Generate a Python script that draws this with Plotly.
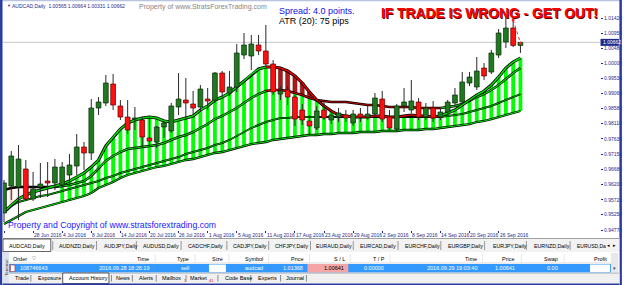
import plotly.graph_objects as go

# ---------------- data ----------------
bars = list(range(72))
date_ticks = [0, 4, 8, 12, 16, 20, 24, 28, 32, 36, 40, 44, 48, 52, 56, 60, 64, 68]
date_labels = ["22 Jun 2016", "28 Jun 2016", "4 Jul 2016", "8 Jul 2016", "14 Jul 2016",
               "20 Jul 2016", "26 Jul 2016", "1 Aug 2016", "5 Aug 2016", "11 Aug 2016",
               "17 Aug 2016", "23 Aug 2016", "29 Aug 2016", "2 Sep 2016", "8 Sep 2016",
               "14 Sep 2016", "20 Sep 2016", "26 Sep 2016"]

opens = [0.95304, 0.96152, 0.96120, 0.96685, 0.95743, 0.96120, 0.96309, 0.96246, 0.96183, 0.96497,
         0.96780, 0.97376, 0.97188, 0.98601, 0.98758, 0.99354, 0.98664, 0.98318, 0.98255, 0.98224,
         0.97659, 0.97533, 0.98004, 0.97879, 0.98632, 0.98852, 0.98726, 0.98632, 0.98883, 0.98852,
         0.99700, 0.99072, 0.99260, 1.00265, 1.00234, 1.00579, 1.00391, 0.99982, 0.99040, 0.99166,
         0.98946, 0.98538, 0.98193, 0.97973, 0.98538, 0.98224, 0.98318, 0.98381, 0.98130, 0.98412,
         0.98318, 0.98412, 0.98883, 0.98318, 0.97941, 0.98664, 0.98538, 0.98789, 0.98318, 0.98601,
         0.98318, 0.98475, 0.98758, 0.98789, 0.99386, 0.99260, 0.99857, 0.99731, 1.00265, 1.00673,
         1.01113, 1.00565]
highs = [0.96340, 0.97251, 0.97439, 0.96968, 0.96591, 0.96874, 0.96905, 0.96999, 0.96905, 0.97156,
         0.97784, 0.97533, 0.98883, 0.98946, 0.99637, 0.99668, 0.98852, 0.98852, 0.98632, 0.98318,
         0.98318, 0.98036, 0.98193, 0.98758, 0.99700, 0.99543, 0.99135, 0.99323, 0.99229, 0.99731,
         0.99763, 0.99763, 1.00610, 1.00956, 1.00893, 1.00893, 1.01207, 1.00108, 0.99292, 0.99292,
         0.99009, 0.98726, 0.98381, 0.98664, 0.98789, 0.98475, 0.98601, 0.98538, 0.98538, 0.98601,
         0.98695, 0.99072, 0.99135, 0.98538, 0.98726, 0.99229, 0.99480, 0.98915, 0.98758, 0.98821,
         0.98601, 0.98852, 0.99229, 0.99731, 0.99731, 1.00202, 1.00014, 1.00422, 1.01081, 1.01521,
         1.01490, 1.00664]
lows = [0.95021, 0.95712, 0.95084, 0.95681, 0.95681, 0.95775, 0.95806, 0.96026, 0.96089, 0.96183,
        0.96497, 0.96654, 0.96968, 0.98381, 0.98664, 0.98538, 0.98224, 0.97784, 0.97910, 0.97376,
        0.97408, 0.97345, 0.97659, 0.97816, 0.98381, 0.98224, 0.98381, 0.98475, 0.98538, 0.98758,
        0.98946, 0.98978, 0.99103, 1.00139, 0.99794, 1.00265, 0.99920, 0.99009, 0.98852, 0.98695,
        0.98036, 0.98067, 0.97753, 0.97910, 0.98224, 0.98098, 0.98161, 0.98161, 0.98036, 0.98161,
        0.98224, 0.98350, 0.98161, 0.97910, 0.97879, 0.98475, 0.98444, 0.98224, 0.98224, 0.98161,
        0.98224, 0.98381, 0.98664, 0.98726, 0.99292, 0.99166, 0.99480, 0.99668, 1.00171, 1.00485,
        1.00516, 1.00331]
closes = [0.96246, 0.97094, 0.96999, 0.95743, 0.96057, 0.96214, 0.96246, 0.96748, 0.96748, 0.96811,
          0.97376, 0.97188, 0.98601, 0.98789, 0.99386, 0.98695, 0.98318, 0.97910, 0.98287, 0.97690,
          0.97565, 0.98004, 0.98130, 0.98664, 0.98883, 0.98758, 0.98601, 0.99197, 0.98821, 0.99700,
          0.99103, 0.99260, 1.00328, 1.00579, 1.00610, 1.00391, 0.99982, 0.99103, 0.99135, 0.98946,
          0.98255, 0.98224, 0.98036, 0.98507, 0.98287, 0.98381, 0.98444, 0.98287, 0.98412, 0.98318,
          0.98412, 0.98915, 0.98255, 0.97973, 0.98664, 0.98789, 0.98821, 0.98318, 0.98601, 0.98287,
          0.98475, 0.98789, 0.99009, 0.99417, 0.99574, 0.99763, 0.99606, 1.00328, 1.00956, 1.01113,
          1.00565, 1.00662]

ma_fast = [0.95335, 0.95555, 0.95743, 0.95869, 0.95963, 0.96026, 0.96089, 0.96152, 0.96214, 0.96309,
           0.96434, 0.96560, 0.96748, 0.96968, 0.97408, 0.97690, 0.97941, 0.98130, 0.98224, 0.98287,
           0.98318, 0.98287, 0.98193, 0.98161, 0.98224, 0.98287, 0.98350, 0.98538, 0.98664, 0.98852,
           0.98946, 0.99072, 0.99260, 0.99449, 0.99668, 0.99825, 0.99888, 0.99888, 0.99857, 0.99763,
           0.99606, 0.99386, 0.99103, 0.98852, 0.98664, 0.98507, 0.98381, 0.98350, 0.98318, 0.98318,
           0.98318, 0.98350, 0.98350, 0.98318, 0.98318, 0.98350, 0.98381, 0.98350, 0.98350, 0.98318,
           0.98350, 0.98444, 0.98538, 0.98695, 0.98852, 0.99009, 0.99135, 0.99323, 0.99574, 0.99857,
           1.00045, 1.00171]
ma_mid = [0.96026, 0.96089, 0.96120, 0.96120, 0.96120, 0.96120, 0.96120, 0.96120, 0.96152, 0.96183,
          0.96246, 0.96309, 0.96466, 0.96717, 0.96937, 0.97094, 0.97219, 0.97313, 0.97345, 0.97376,
          0.97408, 0.97439, 0.97502, 0.97596, 0.97690, 0.97753, 0.97847, 0.97973, 0.98098, 0.98255,
          0.98350, 0.98475, 0.98601, 0.98758, 0.98915, 0.99040, 0.99135, 0.99166, 0.99166, 0.99135,
          0.99072, 0.99009, 0.98915, 0.98852, 0.98821, 0.98789, 0.98789, 0.98789, 0.98758, 0.98726,
          0.98695, 0.98695, 0.98664, 0.98632, 0.98632, 0.98632, 0.98632, 0.98601, 0.98601, 0.98601,
          0.98601, 0.98632, 0.98664, 0.98726, 0.98821, 0.98946, 0.99040, 0.99166, 0.99323, 0.99511,
          0.99700, 0.99857]
ma_slow = [0.95398, 0.95524, 0.95649, 0.95712, 0.95775, 0.95838, 0.95869, 0.95932, 0.95995, 0.96057,
           0.96120, 0.96183, 0.96246, 0.96309, 0.96403, 0.96466, 0.96560, 0.96623, 0.96685, 0.96748,
           0.96811, 0.96874, 0.96937, 0.96999, 0.97062, 0.97156, 0.97219, 0.97282, 0.97345, 0.97439,
           0.97502, 0.97596, 0.97722, 0.97847, 0.97973, 0.98067, 0.98161, 0.98224, 0.98287, 0.98287,
           0.98318, 0.98318, 0.98318, 0.98318, 0.98318, 0.98318, 0.98318, 0.98318, 0.98318, 0.98318,
           0.98318, 0.98318, 0.98318, 0.98318, 0.98318, 0.98318, 0.98318, 0.98318, 0.98318, 0.98318,
           0.98318, 0.98350, 0.98381, 0.98412, 0.98475, 0.98538, 0.98601, 0.98664, 0.98758, 0.98852,
           0.98946, 0.99040]
ma_base = [0.94958, 0.95084, 0.95210, 0.95335, 0.95398, 0.95461, 0.95524, 0.95586, 0.95649, 0.95712,
           0.95775, 0.95838, 0.95932, 0.96089, 0.96183, 0.96277, 0.96403, 0.96497, 0.96560, 0.96623,
           0.96685, 0.96748, 0.96780, 0.96842, 0.96905, 0.96968, 0.96999, 0.97062, 0.97125, 0.97188,
           0.97219, 0.97282, 0.97345, 0.97408, 0.97470, 0.97502, 0.97533, 0.97596, 0.97627, 0.97659,
           0.97690, 0.97722, 0.97753, 0.97753, 0.97784, 0.97784, 0.97816, 0.97816, 0.97816, 0.97847,
           0.97847, 0.97847, 0.97879, 0.97879, 0.97879, 0.97910, 0.97910, 0.97910, 0.97941, 0.97941,
           0.97973, 0.98004, 0.98036, 0.98067, 0.98098, 0.98161, 0.98193, 0.98255, 0.98318, 0.98381,
           0.98444, 0.98507]
regime = ["pink"] * 8 + ["up"] * 29 + ["down"] * 7 + ["flat"] * 17 + ["up"] * 11

price_ticks = [1.01420, 1.00950, 1.00480, 1.00000, 0.99530, 0.99060, 0.98580, 0.98110,
               0.97630, 0.97150, 0.96680, 0.96200, 0.95720, 0.95250, 0.94770]
bid_price = 1.00662
trade_bars = [70, 71]
trade_prices = [1.01368, 1.00641]

tabs_top = ["AUDCAD,Daily", "AUDNZD,Daily", "AUDJPY,Daily", "AUDUSD,Daily", "CADCHF,Daily",
            "CADJPY,Daily", "CHFJPY,Daily", "EURAUD,Daily", "EURCAD,Daily", "EURCHF,Daily",
            "EURGBP,Daily", "EURJPY,Daily", "EURNZD,Daily", "EURUSD,Da"]
tabs_bottom = ["Trade", "Exposure", "Account History", "News", "Alerts", "Mailbox",
               "Market", "Code Base", "Experts", "Journal"]
header_cols = ["Time", "Type", "Size", "Symbol", "Price", "S / L", "T / P", "Time", "Price", "Swap", "Profit"]
row_vals = ["2016.09.28 18:26:19", "sell", "", "audcad", "1.01368", "1.00641", "0.00000",
            "2016.09.29 19:03:40", "1.00641", "0.00", ""]

# ---------------- layout helpers ----------------
PL, PR, PT, PB = 3, 603, 3, 230
NAVY = "#1f2a8a"
FONT = "Liberation Sans"


def px(x):
    return (x - PL) / (PR - PL)


def py(y):
    return (PB - y) / (PB - PT)


fig = go.Figure()

# ---------------- histogram ----------------
green_x, green_b, green_h = [], [], []
red_x, red_b, red_h = [], [], []
pink_x, pink_b, pink_h = [], [], []
for i in bars:
    a, b, d = ma_fast[i], ma_mid[i], ma_base[i]
    r = regime[i]
    if r == "pink":
        pink_x.append(i); pink_b.append(min(a, b)); pink_h.append(abs(a - b))
    elif r == "down":
        red_x.append(i); red_b.append(min(a, b)); red_h.append(abs(a - b))
        green_x.append(i); green_b.append(d); green_h.append(min(a, b) - d)
    else:
        green_x.append(i); green_b.append(d); green_h.append(a - d)

fig.add_trace(go.Bar(x=pink_x, y=pink_h, base=pink_b, width=0.5, marker=dict(color="#ffd6d6", line=dict(width=0)),
                     hoverinfo="skip", zorder=0))
fig.add_trace(go.Bar(x=green_x, y=green_h, base=green_b, width=0.52, marker=dict(color="#00ff00", line=dict(width=0)),
                     hoverinfo="skip", zorder=0))
fig.add_trace(go.Bar(x=red_x, y=red_h, base=red_b, width=0.55, marker=dict(color="#b01818", line=dict(color="#600000", width=0.5)),
                     hoverinfo="skip", zorder=0))

# ---------------- MA lines ----------------
def add_line(vals, under_w, inner_w, colors):
    fig.add_trace(go.Scatter(x=bars, y=vals, mode="lines", line=dict(color="#000000", width=under_w),
                             hoverinfo="skip", zorder=1))
    groups = {}
    for i in range(len(vals) - 1):
        c = colors[regime[i + 1]]
        g = groups.setdefault(c, ([], []))
        g[0].extend([i, i + 1, None])
        g[1].extend([vals[i], vals[i + 1], None])
    for c, (xs, ys) in groups.items():
        fig.add_trace(go.Scatter(x=xs, y=ys, mode="lines", line=dict(color=c, width=inner_w),
                                 hoverinfo="skip", zorder=1))


GRN = "#00e000"
add_line(ma_base, 2.3, 1.0, {"pink": GRN, "up": GRN, "down": GRN, "flat": GRN})
add_line(ma_slow, 1.9, 0.8, {"pink": GRN, "up": GRN, "down": GRN, "flat": "#202020"})
add_line(ma_mid, 2.5, 1.1, {"pink": "#000000", "up": GRN, "down": "#e00000", "flat": "#c00000"})
add_line(ma_fast, 3.1, 1.5, {"pink": GRN, "up": GRN, "down": "#ee0000", "flat": "#cc0000"})

# ---------------- candles ----------------
wx, wy = [], []
for i in bars:
    wx.extend([i, i, None]); wy.extend([lows[i], highs[i], None])
fig.add_trace(go.Scatter(x=wx, y=wy, mode="lines", line=dict(color="#2a2a2a", width=1),
                         hoverinfo="skip", zorder=2))
body_b = [min(o, c) for o, c in zip(opens, closes)]
body_h = [max(abs(c - o), 0.00004) for o, c in zip(opens, closes)]
body_c = ["#1f7a1f" if c >= o else "#ff1010" for o, c in zip(opens, closes)]
body_l = ["#0a2a0a" if c >= o else "#5a0000" for o, c in zip(opens, closes)]
fig.add_trace(go.Bar(x=bars, y=body_h, base=body_b, width=0.66,
                     marker=dict(color=body_c, line=dict(color=body_l, width=0.7)),
                     hoverinfo="skip", zorder=3))

# trade line
fig.add_trace(go.Scatter(x=trade_bars, y=trade_prices, mode="lines+markers",
                         line=dict(color="#ff2020", width=1, dash="dot"),
                         marker=dict(color="#ff2020", size=3), hoverinfo="skip", zorder=4))

shapes = []
annotations = []

# bid line
shapes.append(dict(type="line", xref="paper", yref="y", x0=0, x1=1, y0=bid_price, y1=bid_price,
                   line=dict(color="#c8c8c8", width=1), layer="below"))


def rect(x0, y0, x1, y1, fill, line=None, lw=0):
    shapes.append(dict(type="rect", xref="paper", yref="paper", x0=px(x0), x1=px(x1), y0=py(y1), y1=py(y0),
                       fillcolor=fill, line=dict(color=line or fill, width=lw), layer="above"))


def hline(x0, x1, y, color, w=1):
    shapes.append(dict(type="line", xref="paper", yref="paper", x0=px(x0), x1=px(x1), y0=py(y), y1=py(y),
                       line=dict(color=color, width=w), layer="above"))


def vline(x, y0, y1, color, w=1):
    shapes.append(dict(type="line", xref="paper", yref="paper", x0=px(x), x1=px(x), y0=py(y0), y1=py(y1),
                       line=dict(color=color, width=w), layer="above"))


def text(x, y, s, size=5.5, color="#000000", anchor="left", bold=False, family=FONT, angle=0):
    if bold:
        s = "<b>" + s + "</b>"
    annotations.append(dict(x=px(x), y=py(y), xref="paper", yref="paper", text=s, showarrow=False,
                            xanchor=anchor, yanchor="middle", textangle=angle,
                            font=dict(size=size, color=color, family=family)))


# ---------- chart texts ----------
text(5, 6, "▼", size=4, color=NAVY)
text(10, 6, "AUDCAD,Daily  1.00565 1.00664 1.00331 1.00662", size=5, color=NAVY)
text(204, 7, "Property of www.StratsForexTrading.com", size=7, color="#858585", anchor="center")
text(278, 10.5, "Spread: 4.0 points.", size=9, color="#1010e8")
text(278, 20.5, "ATR (20): 75 pips", size=9, color="#000000")
text(492.5, 14, "IF TRADE IS WRONG - GET OUT!", size=13.8, color="#5a0000", anchor="center", bold=True)
text(491.5, 13, "IF TRADE IS WRONG - GET OUT!", size=13.8, color="#ff0000", anchor="center", bold=True)
text(6, 225, "Property and Copyright of www.stratsforextrading.com", size=8.7, color="#1a1aff")

# date labels
for t, lab in zip(date_ticks, date_labels):
    annotations.append(dict(x=t - 0.15, y=py(235), xref="x", yref="paper", text=lab, showarrow=False,
                            xanchor="left", yanchor="middle", font=dict(size=5, color=NAVY, family=FONT)))

# bid price box
shapes.append(dict(type="rect", xref="paper", yref="y", x0=px(603.5), x1=px(622),
                   y0=bid_price - 0.0011, y1=bid_price + 0.0011, fillcolor=NAVY, line=dict(width=0)))
annotations.append(dict(x=px(604.5), y=bid_price, xref="paper", yref="y", text="1.00662", showarrow=False,
                        xanchor="left", yanchor="middle", font=dict(size=5, color="#ffffff", family=FONT)))

# ---------- frames ----------
rect(0, 0, 625, 1.2, "#b8c4e0")
rect(0, 0, 2.5, 285, "#2a3aa0")
rect(622.5, 0, 625, 285, "#2a3aa0")

# ---------- symbol tabs row ----------
rect(2.5, 238, 622.5, 252, "#f2f2f2")
hline(2.5, 622.5, 238.5, "#a0a0a0", 1)
rect(3, 239, 51, 251.5, "#ffffff", "#404040", 0.8)
tab_x = [7, 57, 102, 142, 187, 232, 274, 316, 360, 405, 448, 493, 535, 578]
sep_x = [53, 97, 137, 182, 228, 270, 312, 355, 400, 443, 487, 529, 573]
for s, x in zip(tabs_top[:-1], tab_x[:-1]):
    text(x, 245.5, s, size=5.3, color="#000000")
text(tab_x[-1], 245.5, tabs_top[-1], size=5.0, color="#000000")
for x in sep_x:
    vline(x, 241, 250, "#808080", 0.8)
text(612, 245.5, "◂", size=4.5, color="#000000", anchor="center")
text(617.5, 245.5, "▸", size=4.5, color="#000000", anchor="center")

# ---------- terminal ----------
rect(2.5, 252, 622.5, 285, "#ffffff")
rect(2.5, 252, 9, 284, "#dde3ee")
text(5.8, 268, "Terminal", size=4.3, color="#303030", anchor="center", angle=-90)
hline(9, 614, 263, "#d0d0d0", 0.8)
text(11, 258.5, "Order", size=5.5)
text(30, 258.5, "▽", size=4.5, color="#606060")
head_right = [152, 192, 226, 266, 308, 349, 389, 481, 520, 563, 612]
for s, x in zip(header_cols, head_right):
    text(x, 258.5, s, size=5.5, anchor="right")
for x in [155, 195, 229, 269, 310, 351, 391, 484, 523, 566]:
    vline(x + 1, 254, 263, "#e0e0e0", 0.8)

# selected row
rect(9, 264, 614, 272.5, "#3399ff")
rect(210, 264.5, 227, 272, "#ffffff")
rect(309, 264, 350, 272.5, "#f4a6a6")
rect(593, 264.5, 613, 272, "#ffffff")
rect(10.5, 265, 15, 271.5, "#ffffff", "#c03030", 0.6)
text(18, 268.3, "108746643", size=5.5, color="#ffffff")
row_right = [152, 192, 226, 266, 307, 348, 388, 481, 520, 563, 612]
for s, x in zip(row_vals, row_right):
    if s:
        col = "#000000" if x == 348 else "#ffffff"
        text(x, 268.3, s, size=5.5, color=col, anchor="right")
rect(614, 253, 621.5, 273, "#e8e8e8")
text(617.7, 268.3, "▾", size=5, color="#404040", anchor="center")

# bottom tabs
rect(9, 273, 622.5, 283.5, "#f0f0f0")
hline(9, 622.5, 273.2, "#b0b0b0", 0.8)
rect(63, 273, 109.5, 283.5, "#ffffff", "#303030", 0.8)
btab_x = [13, 36, 67, 115, 138, 161, 189, 224, 257, 285]
bsep_x = [31, 112, 133, 157, 187, 219, 252, 282, 308]
for s, x in zip(tabs_bottom, btab_x):
    text(x, 278, s, size=5.5)
for x in bsep_x:
    vline(x, 275, 281.5, "#707070", 0.8)
text(182.5, 280, "1", size=4, color="#e00000")
text(208, 280, "41", size=4, color="#e00000")
rect(2.5, 283.5, 622.5, 285, "#2a3aa0")

fig.update_layout(
    width=625, height=285,
    margin=dict(l=PL, r=625 - PR, t=PT, b=285 - PB),
    paper_bgcolor="#ffffff", plot_bgcolor="#ffffff",
    barmode="overlay", showlegend=False, hovermode=False,
    shapes=shapes, annotations=annotations,
    xaxis=dict(range=[-0.137, 81.94], showgrid=False, zeroline=False, showline=True,
               linecolor=NAVY, linewidth=1, ticks="outside", ticklen=2, tickcolor=NAVY,
               tickvals=date_ticks, showticklabels=False, fixedrange=True),
    yaxis=dict(range=[0.9477, 1.01898], side="right", showgrid=False, zeroline=False,
               showline=True, linecolor=NAVY, linewidth=1, ticks="outside", ticklen=2,
               tickcolor=NAVY, tickvals=price_ticks, ticktext=["%.5f" % v for v in price_ticks],
               tickfont=dict(size=5, color=NAVY, family=FONT), fixedrange=True),
)

fig.write_html("out.html", config={"displayModeBar": False})
